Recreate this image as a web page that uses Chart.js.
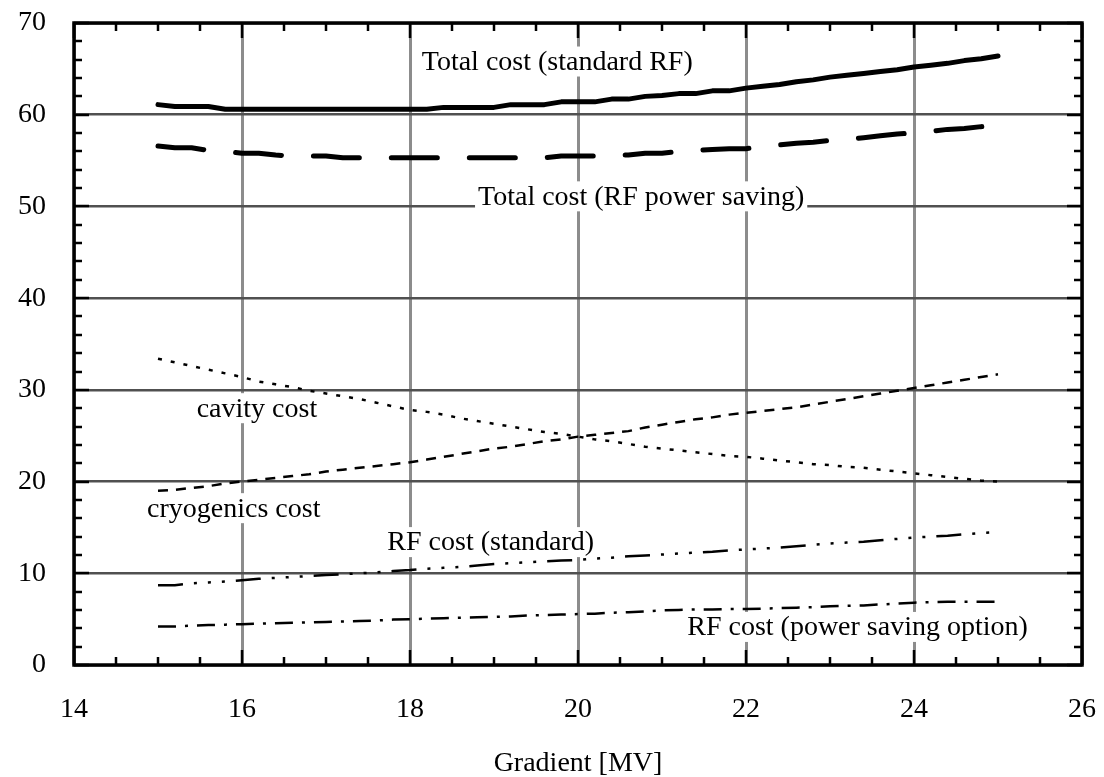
<!DOCTYPE html>
<html>
<head>
<meta charset="utf-8">
<title>Cost vs gradient</title>
<script src="https://cdn.jsdelivr.net/npm/chart.js@4.4.1/dist/chart.umd.min.js"></script>
<style>
    html, body { margin: 0; padding: 0; background: #fff; }
    #wrap { width: 1104px; height: 777px; }
</style>
</head>
<body>
<div id="wrap"><canvas id="chart" width="1104" height="777"></canvas></div>
<script>
// Gradient values (MV), one point every 0.2
const gradient = [
    15.0, 15.2, 15.4, 15.6, 15.8, 16.0, 16.2, 16.4, 16.6, 16.8,
    17.0, 17.2, 17.4, 17.6, 17.8, 18.0, 18.2, 18.4, 18.6, 18.8,
    19.0, 19.2, 19.4, 19.6, 19.8, 20.0, 20.2, 20.4, 20.6, 20.8,
    21.0, 21.2, 21.4, 21.6, 21.8, 22.0, 22.2, 22.4, 22.6, 22.8,
    23.0, 23.2, 23.4, 23.6, 23.8, 24.0, 24.2, 24.4, 24.6, 24.8, 25.0
];

const totalStandardRF = [
    61.1, 60.9, 60.9, 60.9, 60.6, 60.6, 60.6, 60.6, 60.6, 60.6,
    60.6, 60.6, 60.6, 60.6, 60.6, 60.6, 60.6, 60.8, 60.8, 60.8,
    60.8, 61.1, 61.1, 61.1, 61.4, 61.4, 61.4, 61.7, 61.7, 62.0,
    62.1, 62.3, 62.3, 62.6, 62.6, 62.9, 63.1, 63.3, 63.6, 63.8,
    64.1, 64.3, 64.5, 64.7, 64.9, 65.2, 65.4, 65.6, 65.9, 66.1, 66.4
];

const totalPowerSaving = [
    56.6, 56.4, 56.4, 56.1, 56.0, 55.8, 55.8, 55.6, 55.5, 55.5,
    55.5, 55.3, 55.3, 55.3, 55.3, 55.3, 55.3, 55.3, 55.3, 55.3,
    55.3, 55.3, 55.3, 55.3, 55.5, 55.5, 55.5, 55.6, 55.6, 55.8,
    55.8, 56.0, 56.1, 56.2, 56.3, 56.3, 56.5, 56.7, 56.9, 57.0,
    57.2, 57.3, 57.5, 57.7, 57.9, 58.0, 58.2, 58.4, 58.5, 58.7, 58.8
];

const cavityCost = [
    33.4, 33.0, 32.6, 32.2, 31.8, 31.4, 30.9, 30.6, 30.3, 29.9,
    29.6, 29.3, 29.0, 28.6, 28.2, 27.8, 27.6, 27.3, 26.9, 26.6,
    26.3, 26.0, 25.7, 25.4, 25.2, 24.9, 24.6, 24.4, 24.1, 23.8,
    23.6, 23.4, 23.2, 23.0, 22.8, 22.7, 22.5, 22.3, 22.1, 21.9,
    21.8, 21.6, 21.5, 21.3, 21.1, 20.9, 20.7, 20.5, 20.3, 20.1, 20.0
];

const cryogenicsCost = [
    19.0, 19.1, 19.3, 19.5, 19.8, 20.0, 20.2, 20.4, 20.6, 20.8,
    21.1, 21.3, 21.5, 21.7, 21.9, 22.1, 22.4, 22.7, 23.0, 23.3,
    23.6, 23.8, 24.1, 24.4, 24.6, 24.9, 25.1, 25.3, 25.5, 25.9,
    26.2, 26.5, 26.8, 27.0, 27.3, 27.5, 27.7, 27.9, 28.1, 28.4,
    28.7, 29.0, 29.3, 29.6, 29.9, 30.2, 30.5, 30.8, 31.1, 31.4, 31.7
];

const rfStandard = [
    8.7, 8.7, 8.9, 9.0, 9.1, 9.25, 9.4, 9.5, 9.6, 9.7,
    9.8, 9.9, 10.0, 10.1, 10.25, 10.35, 10.5, 10.6, 10.7, 10.85,
    11.0, 11.1, 11.2, 11.3, 11.4, 11.45, 11.6, 11.7, 11.85, 11.95,
    12.05, 12.15, 12.25, 12.35, 12.5, 12.6, 12.7, 12.8, 12.95, 13.1,
    13.25, 13.35, 13.45, 13.6, 13.75, 13.9, 14.0, 14.1, 14.25, 14.4, 14.5
];

const rfPowerSaving = [
    4.2, 4.2, 4.3, 4.35, 4.4, 4.45, 4.5, 4.55, 4.6, 4.65,
    4.7, 4.75, 4.8, 4.85, 4.95, 5.0, 5.05, 5.1, 5.15, 5.2,
    5.25, 5.3, 5.4, 5.45, 5.5, 5.55, 5.6, 5.7, 5.75, 5.85,
    5.95, 6.0, 6.05, 6.05, 6.1, 6.1, 6.15, 6.2, 6.25, 6.3,
    6.4, 6.45, 6.5, 6.6, 6.7, 6.8, 6.85, 6.9, 6.9, 6.9, 6.9
];

// Curve annotations: text, left edge (x value), vertical centre (y value)
const annotations = [
    { text: 'Total cost (standard RF)', x: 18.14, y: 65.8 },
    { text: 'Total cost (RF power saving)', x: 18.81, y: 51.1 },
    { text: 'cavity cost', x: 15.46, y: 28.0 },
    { text: 'cryogenics cost', x: 14.87, y: 17.1 },
    { text: 'RF cost (standard)', x: 17.73, y: 13.4 },
    { text: 'RF cost (power saving option)', x: 21.3, y: 4.15 }
];

const FONT = '"Liberation Serif", "Times New Roman", serif';

function points(values) {
    return gradient.map((g, i) => ({ x: g, y: values[i] }));
}

function series(label, values, width, dash, cap) {
    return {
        label: label,
        data: points(values),
        borderColor: '#000',
        borderWidth: width,
        borderDash: dash,
        borderCapStyle: cap || 'butt',
        borderJoinStyle: 'round',
        pointRadius: 0,
        fill: false,
        tension: 0
    };
}

// white boxes + text for the curve labels
const labelPlugin = {
    id: 'curveLabels',
    beforeDatasetsDraw(chart) {
        const ctx = chart.ctx;
        const xs = chart.scales.x, ys = chart.scales.y;
        ctx.save();
        ctx.font = '28px ' + FONT;
        ctx.textBaseline = 'middle';
        ctx.textAlign = 'left';
        annotations.forEach(a => {
            const px = xs.getPixelForValue(a.x);
            const py = ys.getPixelForValue(a.y);
            const w = ctx.measureText(a.text).width;
            ctx.fillStyle = '#fff';
            ctx.fillRect(px - 3, py - 15, w + 6, 30);
            ctx.fillStyle = '#000';
            ctx.fillText(a.text, px, py + 1);
        });
        ctx.restore();
    }
};

// frame with inward ticks on all four sides
const framePlugin = {
    id: 'frame',
    afterDraw(chart) {
        const ctx = chart.ctx;
        const a = chart.chartArea;
        const xs = chart.scales.x, ys = chart.scales.y;
        ctx.save();
        ctx.strokeStyle = '#000';
        ctx.lineWidth = 2.5;
        ctx.beginPath();
        for (let v = 14; v <= 26.001; v += 0.5) {
            const px = Math.round(xs.getPixelForValue(v));
            const len = (Math.abs(v % 2) < 0.01) ? 15 : 8;
            ctx.moveTo(px, a.bottom); ctx.lineTo(px, a.bottom - len);
            ctx.moveTo(px, a.top); ctx.lineTo(px, a.top + len);
        }
        for (let v = 0; v <= 70.001; v += 2) {
            const py = Math.round(ys.getPixelForValue(v));
            const len = (v % 10 === 0) ? 15 : 8;
            ctx.moveTo(a.left, py); ctx.lineTo(a.left + len, py);
            ctx.moveTo(a.right, py); ctx.lineTo(a.right - len, py);
        }
        ctx.stroke();
        ctx.lineWidth = 3.5;
        ctx.strokeRect(a.left, a.top, a.right - a.left, a.bottom - a.top);
        ctx.restore();
    }
};

Chart.defaults.font.family = FONT;
Chart.defaults.color = '#000';

new Chart(document.getElementById('chart'), {
    type: 'line',
    data: {
        datasets: [
            series('Total cost (standard RF)', totalStandardRF, 5, [], 'round'),
            series('Total cost (RF power saving)', totalPowerSaving, 5, [46, 32], 'round'),
            series('cavity cost', cavityCost, 2.5, [4, 9]),
            series('cryogenics cost', cryogenicsCost, 2.5, [10, 8]),
            series('RF cost (standard)', rfStandard, 2.5, [25, 11, 3, 11, 3, 11, 3, 11]),
            series('RF cost (power saving option)', rfPowerSaving, 2.5, [18, 9, 3, 9])
        ]
    },
    options: {
        responsive: false,
        animation: false,
        events: [],
        layout: { padding: { left: 0, top: 23, right: 22, bottom: 0 } },
        plugins: {
            legend: { display: false },
            tooltip: { enabled: false }
        },
        scales: {
            x: {
                type: 'linear',
                min: 14,
                max: 26,
                ticks: {
                    stepSize: 2,
                    padding: 28,
                    font: { size: 28 },
                    color: '#000'
                },
                grid: { color: '#8c8c8c', lineWidth: 3, drawTicks: false },
                border: { display: false },
                title: {
                    display: true,
                    text: 'Gradient [MV]',
                    font: { size: 28 },
                    color: '#000',
                    padding: { top: 0, bottom: -3 }
                },
                afterFit(scale) {
                    scale.height = 112;
                    scale.paddingLeft = 0;
                    scale.paddingRight = 0;
                }
            },
            y: {
                min: 0,
                max: 70,
                ticks: {
                    stepSize: 10,
                    padding: 28,
                    font: { size: 28 },
                    color: '#000'
                },
                grid: { color: '#505050', lineWidth: 2.5, drawTicks: false },
                border: { display: false },
                afterFit(scale) {
                    scale.width = 74;
                    scale.paddingTop = 0;
                    scale.paddingBottom = 0;
                }
            }
        }
    },
    plugins: [labelPlugin, framePlugin]
});
</script>
</body>
</html>
